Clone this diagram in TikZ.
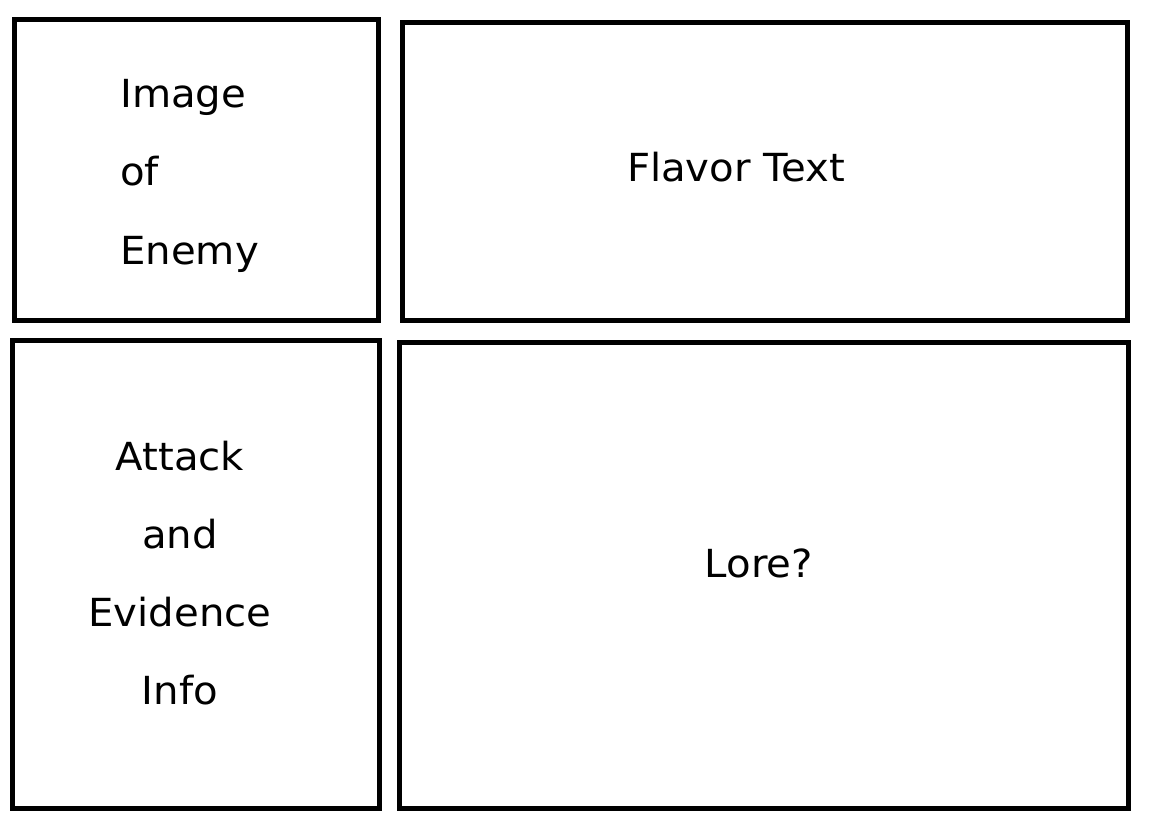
\documentclass[tikz,border=0pt]{standalone}
\usepackage{fontspec}
\setmainfont{DejaVu Sans}[FakeStretch=1.04]
\begin{document}
\begin{tikzpicture}[x=0.75pt,y=-0.75pt,
  panel/.style={draw=black,line width=3.75pt,fill=none,inner sep=0pt},
  lbl/.style={font=\fontsize{29}{34}\selectfont,inner sep=0pt,anchor=base},
  lblw/.style={lbl,anchor=base west}]
\useasboundingbox (0,0) rectangle (1166,827);
% four panels
\draw[panel] (14.5,19.5) rectangle (378.5,320.5);
\draw[panel] (402.5,22.5) rectangle (1127.5,320.5);
\draw[panel] (12.5,340.5) rectangle (379.5,808.5);
\draw[panel] (399.5,342.5) rectangle (1128.5,808.5);
% enemy picture panel
\node[lblw] (img1) at (120,108) {Image};
\node[lblw] (img2) at (120,186) {of};
\node[lblw] (img3) at (120,264) {Enemy};
% flavor text panel
\node[lbl] (flavor) at (736,182) {Flavor Text};
% attack and evidence panel
\node[lbl] (atk1) at (180,470) {Attack};
\node[lbl] (atk2) at (180,548) {and};
\node[lbl] (atk3) at (180,626) {Evidence};
\node[lbl] (atk4) at (180,704) {Info};
% lore panel
\node[lbl] (lore) at (759,577) {Lore?};
\end{tikzpicture}
\end{document}
